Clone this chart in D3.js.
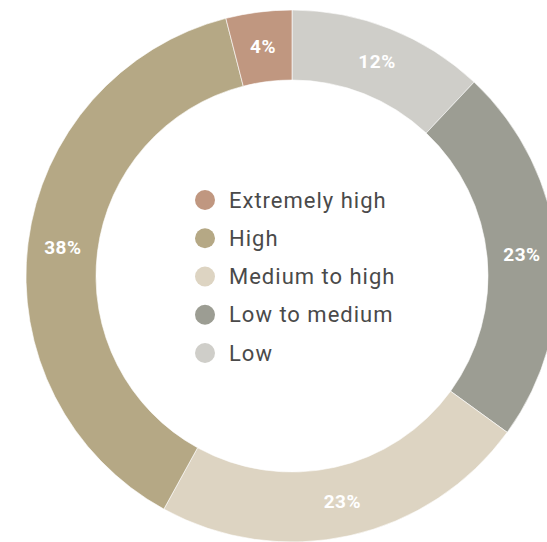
<!DOCTYPE html>
<html><head><meta charset="utf-8">
<script src="https://cdn.jsdelivr.net/npm/d3@7"></script>
<style>body{margin:0;background:#fff}svg{display:block}</style>
</head><body>
<svg id="chart" width="547" height="542"></svg>
<script>
const categories = ["Low", "Low to medium", "Medium to high", "High", "Extremely high"];
const values = [12, 23, 23, 38, 4];
const colors = ["#cfcec9", "#9c9d93", "#ddd4c2", "#b5a885", "#c09780"];
const legendOrder = ["Extremely high", "High", "Medium to high", "Low to medium", "Low"];

const svg = d3.select("#chart");
const cx = 292, cy = 276, outerR = 266, innerR = 196;
const g = svg.append("g").attr("transform", `translate(${cx},${cy})`);
const color = d3.scaleOrdinal().domain(categories).range(colors);
const data = categories.map((c, i) => ({cat: c, value: values[i]}));
const pie = d3.pie().sort(null).value(d => d.value);
const arc = d3.arc().innerRadius(innerR).outerRadius(outerR);
const labelArc = d3.arc().innerRadius((innerR + outerR) / 2).outerRadius((innerR + outerR) / 2);
const arcs = pie(data);
g.selectAll("path").data(arcs).join("path")
  .attr("d", arc).attr("fill", d => color(d.data.cat))
  .attr("stroke", "#fff").attr("stroke-width", 0.6);
g.selectAll("text.lbl").data(arcs).join("text").attr("class", "lbl")
  .attr("transform", d => `translate(${labelArc.centroid(d)})`)
  .attr("text-anchor", "middle").attr("dominant-baseline", "central")
  .attr("fill", "#fff").attr("font-family", "Roboto, sans-serif")
  .attr("font-weight", "bold").attr("font-size", 19).attr("letter-spacing", 0.5)
  .text(d => d.data.value + "%");

const ly = d3.scalePoint().domain(legendOrder).range([200, 353]);
const leg = svg.append("g");
const items = leg.selectAll("g").data(legendOrder).join("g")
  .attr("transform", d => `translate(205,${ly(d)})`);
items.append("circle").attr("r", 10).attr("fill", d => color(d));
items.append("text").attr("x", 24).attr("dominant-baseline", "central")
  .attr("font-family", "Roboto, sans-serif").attr("font-size", 22).attr("letter-spacing", 1)
  .attr("fill", "#4a4a4a").text(d => d);
</script>
</body></html>
